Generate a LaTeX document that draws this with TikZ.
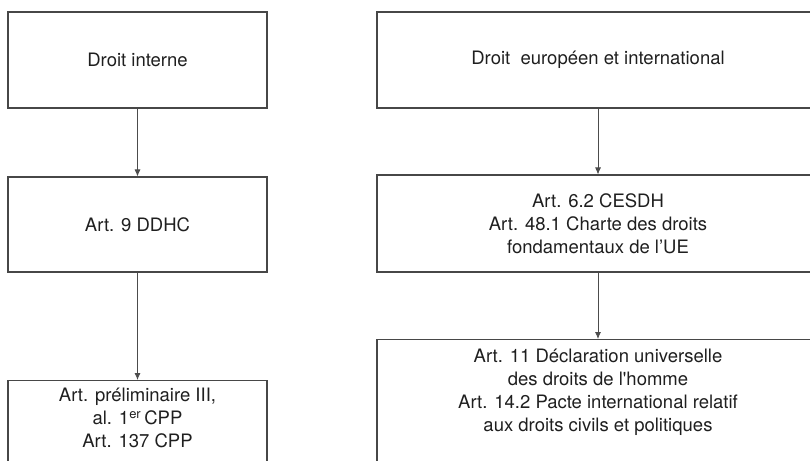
\documentclass[tikz,border=0pt]{standalone}
\usepackage{fontspec}
\setmainfont{TeX Gyre Heros}
\usetikzlibrary{arrows.meta}

\begin{document}
\begin{tikzpicture}[x=1pt,y=-1pt,
  lawbox/.style={draw=black!72, line width=1.1pt, inner sep=0pt, align=center,
    font=\fontsize{18.5}{23}\selectfont, text=black!88},
  lawtext/.style={inner sep=0pt, align=center, font=\fontsize{18.5}{23}\selectfont, text=black!88},
  flow/.style={draw=black!70, line width=0.8pt, -{Latex[length=7pt,width=6pt]}}]
\useasboundingbox (0,0) rectangle (810,460);
% droit interne
\node[lawbox, minimum width=259pt, minimum height=96pt] (int1) at (137.5,60) {Droit interne};
\node[lawbox, minimum width=259pt, minimum height=95pt] (int2) at (137.5,224.5) {Art. 9 DDHC};
\node[lawbox, anchor=north, minimum width=259pt, minimum height=150pt] (int3) at (137.5,380) {};
\node[lawtext] (int3t) at (137.5,418) {Art. préliminaire III,\\ al. 1\textsuperscript{er}\,CPP\\ Art. 137 CPP};
% droit europeen et international
\node[lawbox, minimum width=442pt, minimum height=96pt] (eu1) at (598,60) {Droit\ \ européen et international};
\node[lawbox, minimum width=442pt, minimum height=97pt] (eu2) at (598,223.5) {Art. 6.2 CESDH\\ Art. 48.1 Charte des droits\\ fondamentaux de l’UE};
\node[lawbox, anchor=north, minimum width=442pt, minimum height=200pt] (eu3) at (598,339) {};
\node[lawtext] (eu3t) at (598,392) {Art. 11 Déclaration universelle\\ des droits de l\textquotesingle homme\\ Art. 14.2 Pacte international relatif\\ aux droits civils et politiques};
\draw[flow] (int1) -- (int2);
\draw[flow] (int2) -- (int3);
\draw[flow] (eu1) -- (eu2);
\draw[flow] (eu2) -- (eu3);
\end{tikzpicture}
\end{document}
